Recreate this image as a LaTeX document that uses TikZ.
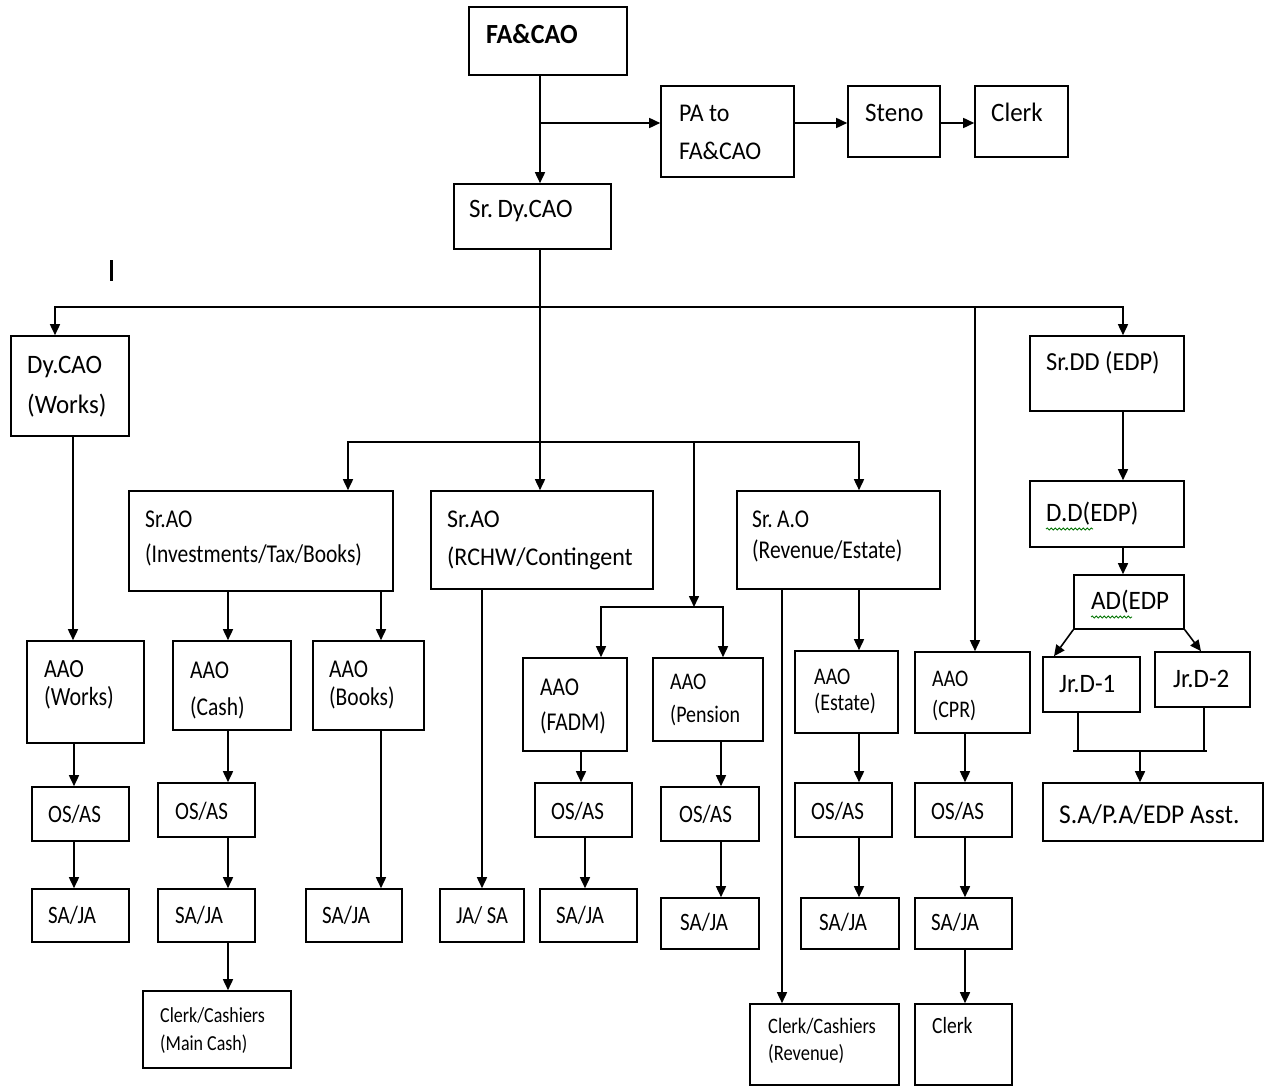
\documentclass[tikz,border=0pt]{standalone}
\usepackage{fontspec}
\setmainfont{Carlito}
\newfontfamily\fontA{Carlito}[FakeStretch=0.94]
\newfontfamily\fontB{Carlito}[FakeStretch=0.84]
\usetikzlibrary{arrows.meta,fit,decorations.pathmorphing}
\begin{document}
\begin{tikzpicture}[x=1pt,y=-1pt,
  box/.style={draw, line width=1.6pt, inner sep=0pt},
  ln/.style={line width=1.6pt},
  arr/.style={line width=1.6pt, -{Triangle[length=11pt,width=10pt]}},
  arrboth/.style={line width=1.6pt, {Triangle[length=11pt,width=10pt]}-{Triangle[length=11pt,width=10pt]}},
  txt/.style={inner sep=0pt, anchor=base west, font=\fontA\fontsize{#1}{#1}\selectfont},
  txt/.default=26.6,
  txs/.style={inner sep=0pt, anchor=base west, font=\fontB\fontsize{#1}{#1}\selectfont},
  txs/.default=25,
  squig/.style={decorate, decoration={snake, amplitude=1.1pt, segment length=4pt}, draw=green!45!black, line width=0.8pt}
]
\useasboundingbox (0,0) rectangle (1266,1086);
\fill[white] (0,0) rectangle (1266,1086);

% ---------- boxes ----------
\node[box, fit={(469,7)(627,75)}] (fa) {};
\node[box, fit={(661,86)(794,177)}] (pa) {};
\node[box, fit={(848,86)(940,157)}] (steno) {};
\node[box, fit={(975,86)(1068,157)}] (clerk) {};
\node[box, fit={(454,184)(611,249)}] (sdy) {};
\node[box, fit={(11,336)(129,436)}] (dycao) {};
\node[box, fit={(1030,336)(1184,411)}] (srdd) {};
\node[box, fit={(129,491)(393,591)}] (inv) {};
\node[box, fit={(431,491)(653,589)}] (rchw) {};
\node[box, fit={(737,491)(940,589)}] (rev) {};
\node[box, fit={(1030,481)(1184,547)}] (dd) {};
\node[box, fit={(1074,575)(1184,629)}] (ad) {};
\node[box, fit={(27,641)(144,743)}] (aaow) {};
\node[box, fit={(173,641)(291,730)}] (aaoc) {};
\node[box, fit={(313,641)(424,730)}] (aaob) {};
\node[box, fit={(523,658)(627,751)}] (fadm) {};
\node[box, fit={(653,658)(763,741)}] (pens) {};
\node[box, fit={(795,651)(898,733)}] (est) {};
\node[box, fit={(915,652)(1030,733)}] (cpr) {};
\node[box, fit={(1043,657)(1140,712)}] (jr1) {};
\node[box, fit={(1155,652)(1250,707)}] (jr2) {};
\node[box, fit={(32,787)(129,841)}] (osw) {};
\node[box, fit={(158,783)(255,837)}] (osc) {};
\node[box, fit={(535,783)(632,837)}] (osf) {};
\node[box, fit={(661,787)(759,841)}] (osp) {};
\node[box, fit={(795,783)(892,837)}] (ose) {};
\node[box, fit={(915,783)(1012,837)}] (oscpr) {};
\node[box, fit={(1043,783)(1263,841)}] (sapa) {};
\node[box, fit={(32,889)(129,942)}] (saw) {};
\node[box, fit={(158,889)(255,942)}] (sac) {};
\node[box, fit={(306,889)(402,942)}] (sab) {};
\node[box, fit={(440,889)(524,942)}] (jasa) {};
\node[box, fit={(540,889)(637,942)}] (saf) {};
\node[box, fit={(661,898)(759,949)}] (sap) {};
\node[box, fit={(801,898)(899,949)}] (sae) {};
\node[box, fit={(915,898)(1012,949)}] (sacpr) {};
\node[box, fit={(143,991)(291,1068)}] (ccm) {};
\node[box, fit={(750,1004)(899,1085)}] (ccr) {};
\node[box, fit={(915,1004)(1012,1085)}] (clerkb) {};

% ---------- texts ----------
\node[txt, font=\fontA\fontsize{27.7}{27.7}\selectfont\bfseries] (fa-t) at (486,44) {FA\&CAO};
\node[txt=25.5] (pa-t1) at (679,122) {PA to};
\node[txt=25.5] (pa-t2) at (679,160) {FA\&CAO};
\node[txt] (steno-t) at (865,122) {Steno};
\node[txt] (clerk-t) at (991,122) {Clerk};
\node[txt] (sdy-t) at (469,218) {Sr.\,Dy.CAO};
\node[txt] (dycao-t1) at (27,373) {Dy.CAO};
\node[txt] (dycao-t2) at (27,413) {(Works)};
\node[txt=26] (srdd-t) at (1046,370) {Sr.DD (EDP)};
\node[txs=25.6] (inv-t1) at (145,527) {Sr.AO};
\node[txs=25.6] (inv-t2) at (145,562) {(Investments/Tax/Books)};
\node[txt=25.5] (rchw-t1) at (447,527) {Sr.AO};
\node[txt=25.5] (rchw-t2) at (447,565) {(RCHW/Contingent};
\node[txs=25.6] (rev-t1) at (752,527) {Sr.\,A.O};
\node[txs=25.6] (rev-t2) at (752,558) {(Revenue/Estate)};
\node[txt] (dd-t) at (1046,521) {D.D(EDP)};
\node[txt] (ad-t) at (1091,609) {AD(EDP};
\node[txt] (jr1-t) at (1059,692) {Jr.D-1};
\node[txt] (jr2-t) at (1173,687) {Jr.D-2};
\node[txs=26.2] (aaow-t1) at (44,677) {AAO};
\node[txs=26.2] (aaow-t2) at (44,705) {(Works)};
\node[txs=25.6] (aaoc-t1) at (190,678) {AAO};
\node[txs=25.6] (aaoc-t2) at (190,715) {(Cash)};
\node[txs=25.6] (aaob-t1) at (329,677) {AAO};
\node[txs=25.6] (aaob-t2) at (329,705) {(Books)};
\node[txs=25.6] (fadm-t1) at (540,695) {AAO};
\node[txs=25.6] (fadm-t2) at (540,730) {(FADM)};
\node[txs=23.8] (pens-t1) at (670,689) {AAO};
\node[txs=23.8] (pens-t2) at (670,722) {(Pension};
\node[txs=23.8] (est-t1) at (814,684) {AAO};
\node[txs=23.8] (est-t2) at (814,710) {(Estate)};
\node[txs=23.8] (cpr-t1) at (932,686) {AAO};
\node[txs=23.8] (cpr-t2) at (932,717) {(CPR)};
\node[txs] (osw-t) at (48,822) {OS/AS};
\node[txs] (osc-t) at (175,819) {OS/AS};
\node[txs] (osf-t) at (551,819) {OS/AS};
\node[txs] (osp-t) at (679,822) {OS/AS};
\node[txs] (ose-t) at (811,819) {OS/AS};
\node[txs] (oscpr-t) at (931,819) {OS/AS};
\node[txt=27.1] (sapa-t) at (1059,823) {S.A/P.A/EDP Asst.};
\node[txs] (saw-t) at (48,923) {SA/JA};
\node[txs] (sac-t) at (175,923) {SA/JA};
\node[txs] (sab-t) at (322,923) {SA/JA};
\node[txs=24.4] (jasa-t) at (456,923) {JA/ SA};
\node[txs] (saf-t) at (556,923) {SA/JA};
\node[txs] (sap-t) at (680,930) {SA/JA};
\node[txs] (sae-t) at (819,930) {SA/JA};
\node[txs] (sacpr-t) at (931,930) {SA/JA};
\node[txs=21.4] (ccm-t1) at (160,1022) {Clerk/Cashiers};
\node[txs=21.4] (ccm-t2) at (160,1050) {(Main Cash)};
\node[txs=22] (ccr-t1) at (768,1033) {Clerk/Cashiers};
\node[txs=22] (ccr-t2) at (768,1060) {(Revenue)};
\node[txs=23.2] (clerkb-t) at (932,1033) {Clerk};

% spell-check squiggles
\draw[squig] (1046,529) -- (1093,529);
\draw[squig] (1091,617) -- (1132,617);

% stray mark
\draw[line width=3pt] (111,260) -- (111,281);

% ---------- column / junction coordinates ----------
\coordinate (c540) at (540,0);
\coordinate (c73) at (73,0);
\coordinate (c74) at (74,0);
\coordinate (c228) at (228,0);
\coordinate (c381) at (381,0);
\coordinate (c482) at (482,0);
\coordinate (c581) at (581,0);
\coordinate (c585) at (585,0);
\coordinate (c721) at (721,0);
\coordinate (c782) at (782,0);
\coordinate (c859) at (859,0);
\coordinate (c965) at (965,0);
\coordinate (c1123) at (1123,0);
\coordinate (c1054) at (1054,0);
\coordinate (c1201) at (1201,0);
\coordinate (jpa) at (540,123);
\coordinate (b1l) at (55,307);
\coordinate (b1r) at (1123,307);
\coordinate (b1c) at (975,307);
\coordinate (b2l) at (348,442);
\coordinate (b2r) at (859,442);
\coordinate (b2p) at (694,442);
\coordinate (sbp) at (694,607);
\coordinate (sbl) at (601,607);
\coordinate (sbr) at (723,607);
\coordinate (jb1) at (1078,751);
\coordinate (jb2) at (1204,751);
\coordinate (jbm) at (1140,751);

% ---------- connectors ----------
\draw[arr] (fa.south -| c540) -- (sdy.north -| c540);
\draw[arr] (jpa) -- (pa.west |- jpa);
\draw[arr] (pa.east |- jpa) -- (steno.west |- jpa);
\draw[arr] (steno.east |- jpa) -- (clerk.west |- jpa);

\draw[arr] (sdy.south -| c540) -- (rchw.north -| c540);
\draw[arrboth] (dycao.north -| b1l) -- (b1l) -- (b1r) -- (srdd.north -| b1r);
\draw[arr] (b1c) -- (cpr.north -| b1c);
\draw[arrboth] (inv.north -| b2l) -- (b2l) -- (b2r) -- (rev.north -| b2r);
\draw[arr] (b2p) -- (sbp);
\draw[arrboth] (fadm.north -| sbl) -- (sbl) -- (sbr) -- (pens.north -| sbr);

\draw[arr] (dycao.south -| c73) -- (aaow.north -| c73);
\draw[arr] (aaow.south -| c74) -- (osw.north -| c74);
\draw[arr] (osw.south -| c74) -- (saw.north -| c74);

\draw[arr] (inv.south -| c228) -- (aaoc.north -| c228);
\draw[arr] (aaoc.south -| c228) -- (osc.north -| c228);
\draw[arr] (osc.south -| c228) -- (sac.north -| c228);
\draw[arr] (sac.south -| c228) -- (ccm.north -| c228);
\draw[arr] (inv.south -| c381) -- (aaob.north -| c381);
\draw[arr] (aaob.south -| c381) -- (sab.north -| c381);

\draw[arr] (rchw.south -| c482) -- (jasa.north -| c482);

\draw[arr] (fadm.south -| c581) -- (osf.north -| c581);
\draw[arr] (osf.south -| c585) -- (saf.north -| c585);
\draw[arr] (pens.south -| c721) -- (osp.north -| c721);
\draw[arr] (osp.south -| c721) -- (sap.north -| c721);

\draw[arr] (rev.south -| c782) -- (ccr.north -| c782);
\draw[arr] (rev.south -| c859) -- (est.north -| c859);
\draw[arr] (est.south -| c859) -- (ose.north -| c859);
\draw[arr] (ose.south -| c859) -- (sae.north -| c859);

\draw[arr] (cpr.south -| c965) -- (oscpr.north -| c965);
\draw[arr] (oscpr.south -| c965) -- (sacpr.north -| c965);
\draw[arr] (sacpr.south -| c965) -- (clerkb.north -| c965);

\draw[arr] (srdd.south -| c1123) -- (dd.north -| c1123);
\draw[arr] (dd.south -| c1123) -- (ad.north -| c1123);
\draw[arr] (ad.south west) -- (jr1.north -| c1054);
\draw[arr] (ad.south east) -- (jr2.north -| c1201);

\draw[ln] (jr1.south -| jb1) -- (jb1);
\draw[ln] (jr2.south -| jb2) -- (jb2);
\draw[ln] ([xshift=-5pt]jb1) -- ([xshift=3pt]jb2);
\draw[arr] (jbm) -- (sapa.north -| jbm);
\end{tikzpicture}
\end{document}
